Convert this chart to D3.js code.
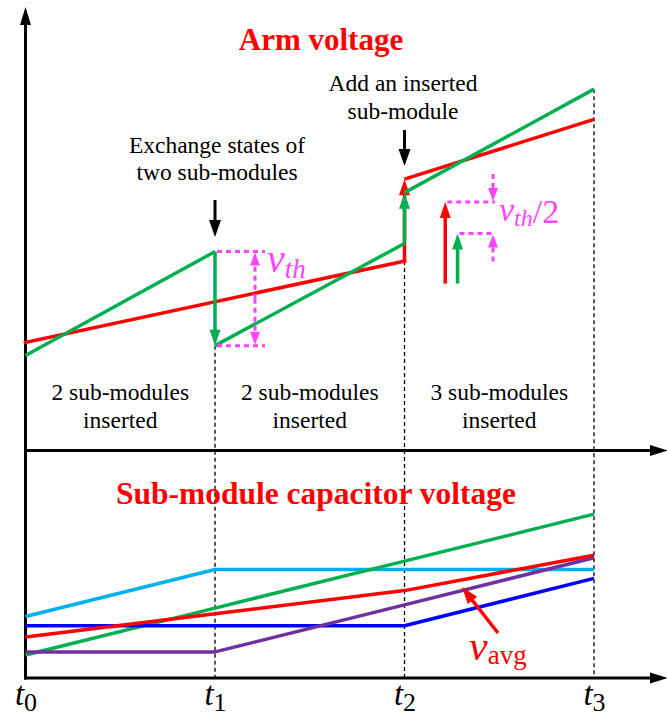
<!DOCTYPE html>
<html><head><meta charset="utf-8">
<script src="https://cdn.jsdelivr.net/npm/d3@7"></script>
<style>
html,body{margin:0;padding:0;background:#fff;}
svg{display:block;}
</style></head>
<body>
<script>
// ---- data ----
const tickIndex = [0, 1, 2, 3];
const tickSubs = ["0", "1", "2", "3"];
// Arm voltage (top panel), [time, value]
const armRed = [[0, 24.0], [2, 42.1], [2, 60.3], [3, 73.6]];
const armGreen = [[0, 21.1], [1, 44.2], [1, 23.3], [2, 46.0], [2, 57.3], [3, 80.3]];
// Sub-module capacitor voltages (bottom panel)
const capGreen = [[0, 10.1], [1, 30.8], [2, 51.5], [3, 72.2]];
const capCyan = [[0, 27.1], [1, 47.8], [2, 47.8], [3, 47.8]];
const capBlue = [[0, 23.0], [1, 23.0], [2, 23.0], [3, 43.9]];
const capPurple = [[0, 11.5], [1, 11.5], [2, 32.2], [3, 53.0]];
const capAvg = [[0, 18.1], [1, 28.3], [2, 38.5], [3, 54.1]];
const regionLabels = [["2 sub-modules", "inserted"], ["2 sub-modules", "inserted"], ["3 sub-modules", "inserted"]];
// v_th/2 illustration arrows: [time, from, to]
const halfRed = [2.215, 37.1, 55.2];
const halfGreen = [2.28, 37.1, 48.2];

// ---- layout ----
const W = 667, H = 717;
const FONT = '"Liberation Serif", "Times New Roman", Tinos, serif';
const C = {red: "#ff0000", green: "#00b050", cyan: "#00b0f0", blue: "#0000ff", purple: "#7030a0", mag: "#ff44ff"};
const svg = d3.select("body").append("svg").attr("width", W).attr("height", H)
  .style("font-family", FONT);
svg.append("rect").attr("width", W).attr("height", H).attr("fill", "#fff");

const x = d3.scaleLinear().domain([0, 3]).range([25.5, 594]);
const yTop = d3.scaleLinear().domain([0, 100]).range([450.5, 0.5]);
const yBot = d3.scaleLinear().domain([0, 100]).range([678, 451]);
const axisY = 678, midY = 450.5, x0 = x(0);

function txt(g, xx, yy, size) {
  return g.append("text").attr("x", xx).attr("y", yy).style("font-family", FONT).style("font-size", size + "px");
}
function arrowHead(g, tx, ty, dir, color, len, w) {
  const [dx, dy] = dir, px = -dy, py = dx;
  const bx = tx - dx * len, by = ty - dy * len;
  g.append("path")
    .attr("d", `M${tx},${ty}L${bx + px * w / 2},${by + py * w / 2}L${bx - px * w / 2},${by - py * w / 2}Z`)
    .attr("fill", color);
}
function arrow(g, x1, y1, x2, y2, color, sw, len, w, dash) {
  const L = Math.hypot(x2 - x1, y2 - y1), ux = (x2 - x1) / L, uy = (y2 - y1) / L;
  g.append("line").attr("x1", x1).attr("y1", y1)
    .attr("x2", x2 - ux * (len - 1)).attr("y2", y2 - uy * (len - 1))
    .attr("stroke", color).attr("stroke-width", sw)
    .attr("stroke-dasharray", dash || null);
  arrowHead(g, x2, y2, [ux, uy], color, len, w);
}

// ---- dashed time markers ----
const dashG = svg.append("g");
const dashStarts = [null, yTop(armGreen[2][1]), yTop(armRed[1][1]), yTop(armGreen[5][1])];
tickIndex.slice(1).forEach(i => {
  dashG.append("line").attr("x1", x(i)).attr("x2", x(i))
    .attr("y1", dashStarts[i]).attr("y2", axisY)
    .attr("stroke", "#000").attr("stroke-width", 1.3).attr("stroke-dasharray", "4,3");
});

// ---- axes ----
const axG = svg.append("g");
axG.append("line").attr("x1", x0).attr("x2", x0).attr("y1", axisY + 1.5).attr("y2", 20)
  .attr("stroke", "#000").attr("stroke-width", 3);
arrowHead(axG, x0, 7, [0, -1], "#000", 18, 11);
[midY, axisY].forEach(yy => {
  axG.append("line").attr("x1", x0 - 1.5).attr("x2", 655).attr("y1", yy).attr("y2", yy)
    .attr("stroke", "#000").attr("stroke-width", 3);
  arrowHead(axG, 668, yy, [1, 0], "#000", 18, 11);
});

const xAxis = d3.axisBottom(x).tickValues(tickIndex).tickSize(0).tickFormat(() => "");
const xg = svg.append("g").attr("transform", `translate(0,${axisY})`).call(xAxis);
xg.select(".domain").remove();
xg.attr("font-family", null).attr("font-size", null);
xg.selectAll(".tick text").each(function(d, i) {
  const t = d3.select(this).attr("y", 27).attr("dy", null).attr("fill", "#000")
    .style("font-family", FONT).attr("text-anchor", "middle");
  t.append("tspan").style("font-style", "italic").style("font-size", "33px").text("t");
  t.append("tspan").style("font-size", "26px").attr("dy", 6).text(tickSubs[i]);
});

// ---- top panel ----
const topG = svg.append("g");
const lineTop = d3.line().x(d => x(d[0])).y(d => yTop(d[1]));
txt(topG, 321, 50, 31).attr("text-anchor", "middle").style("font-weight", "bold")
  .attr("fill", C.red).text("Arm voltage");

topG.append("path").datum(armRed.slice(0, 2)).attr("d", lineTop)
  .attr("fill", "none").attr("stroke", C.red).attr("stroke-width", 3.5).attr("stroke-linecap", "square");
topG.append("path").datum(armRed.slice(2)).attr("d", lineTop)
  .attr("fill", "none").attr("stroke", C.red).attr("stroke-width", 3.5);
arrow(topG, x(2), yTop(armRed[1][1]) + 1.5, x(2), yTop(armRed[2][1]), C.red, 3.5, 16, 11);

topG.append("path").datum(armGreen.slice(0, 2)).attr("d", lineTop)
  .attr("fill", "none").attr("stroke", C.green).attr("stroke-width", 3.5);
topG.append("path").datum(armGreen.slice(2, 4)).attr("d", lineTop)
  .attr("fill", "none").attr("stroke", C.green).attr("stroke-width", 3.5);
topG.append("path").datum(armGreen.slice(4)).attr("d", lineTop)
  .attr("fill", "none").attr("stroke", C.green).attr("stroke-width", 3.5);
arrow(topG, x(1), yTop(armGreen[1][1]), x(1), yTop(armGreen[2][1]), C.green, 3.5, 16, 11);
arrow(topG, x(2), yTop(armGreen[3][1]), x(2), yTop(armGreen[4][1]), C.green, 3.5, 16, 11);

arrow(topG, x(1), 200, x(1), 237, "#000", 3, 17, 12);
arrow(topG, x(2), 130, x(2), 166, "#000", 3, 17, 12);

function multiline(g, cx, y0, lines, lh, size, color) {
  lines.forEach((s, k) => txt(g, cx, y0 + k * lh, size)
    .attr("text-anchor", "middle").attr("fill", color).text(s));
}
multiline(topG, 217, 153, ["Exchange states of", "two sub-modules"], 27, 23.5, "#000");
multiline(topG, 403, 91, ["Add an inserted", "sub-module"], 28, 23.5, "#000");
regionLabels.forEach((ls, i) => multiline(topG, (x(i) + x(i + 1)) / 2, 400, ls, 28, 23.5, "#000"));

const vTop = yTop(armGreen[1][1]), vBot = yTop(armGreen[2][1]);
const mag = topG.append("g");
[vTop, vBot].forEach(yy => mag.append("line").attr("x1", x(1) + 2).attr("x2", 265).attr("y1", yy).attr("y2", yy)
  .attr("stroke", C.mag).attr("stroke-width", 3).attr("stroke-dasharray", "5,4"));
const midV = (vTop + vBot) / 2;
arrow(mag, 255, midV, 255, vTop + 1, C.mag, 3, 13, 10, "5,4");
arrow(mag, 255, midV, 255, vBot - 1, C.mag, 3, 13, 10, "5,4");
const vth = txt(mag, 267, 272, 40).attr("fill", C.mag).style("font-style", "italic");
vth.append("tspan").text("v");
vth.append("tspan").style("font-size", "27px").attr("dy", 6).text("th");

arrow(topG, x(halfRed[0]), yTop(halfRed[1]), x(halfRed[0]), yTop(halfRed[2]), C.red, 3.5, 16, 11);
arrow(topG, x(halfGreen[0]), yTop(halfGreen[1]), x(halfGreen[0]), yTop(halfGreen[2]), C.green, 3.5, 16, 11);
const hTop = yTop(halfRed[2]), hBot = yTop(halfGreen[2]);
mag.append("line").attr("x1", x(halfRed[0]) + 2).attr("x2", 495).attr("y1", hTop).attr("y2", hTop)
  .attr("stroke", C.mag).attr("stroke-width", 3).attr("stroke-dasharray", "5,4");
mag.append("line").attr("x1", x(halfGreen[0]) + 2).attr("x2", 495).attr("y1", hBot).attr("y2", hBot)
  .attr("stroke", C.mag).attr("stroke-width", 3).attr("stroke-dasharray", "5,4");
arrow(mag, 493, hTop - 28, 493, hTop - 1, C.mag, 3, 13, 10, "5,4");
arrow(mag, 493, hBot + 28, 493, hBot + 1, C.mag, 3, 13, 10, "5,4");
const vh = txt(mag, 499, 221, 34).attr("fill", C.mag);
vh.append("tspan").style("font-style", "italic").text("v");
vh.append("tspan").style("font-style", "italic").style("font-size", "24px").attr("dy", 5).text("th");
vh.append("tspan").attr("dy", -3).text("/2");

// ---- bottom panel ----
const bot = svg.append("g");
txt(bot, 316, 504, 31.5).attr("text-anchor", "middle").style("font-weight", "bold")
  .attr("fill", C.red).text("Sub-module capacitor voltage");
const lineBot = d3.line().x(d => x(d[0])).y(d => yBot(d[1]));
[[capCyan, C.cyan], [capGreen, C.green], [capBlue, C.blue], [capPurple, C.purple], [capAvg, C.red]].forEach(([data, col]) => {
  bot.append("path").datum(data).attr("d", lineBot).attr("fill", "none")
    .attr("stroke", col).attr("stroke-width", 3.5).attr("stroke-linejoin", "round");
});
arrow(bot, 498, 633, 462, 587, C.red, 3.5, 17, 12);
const va = txt(bot, 469, 660, 42).attr("fill", C.red);
va.append("tspan").style("font-style", "italic").text("v");
va.append("tspan").style("font-size", "27px").attr("dy", 4).text("avg");
</script>
</body></html>
